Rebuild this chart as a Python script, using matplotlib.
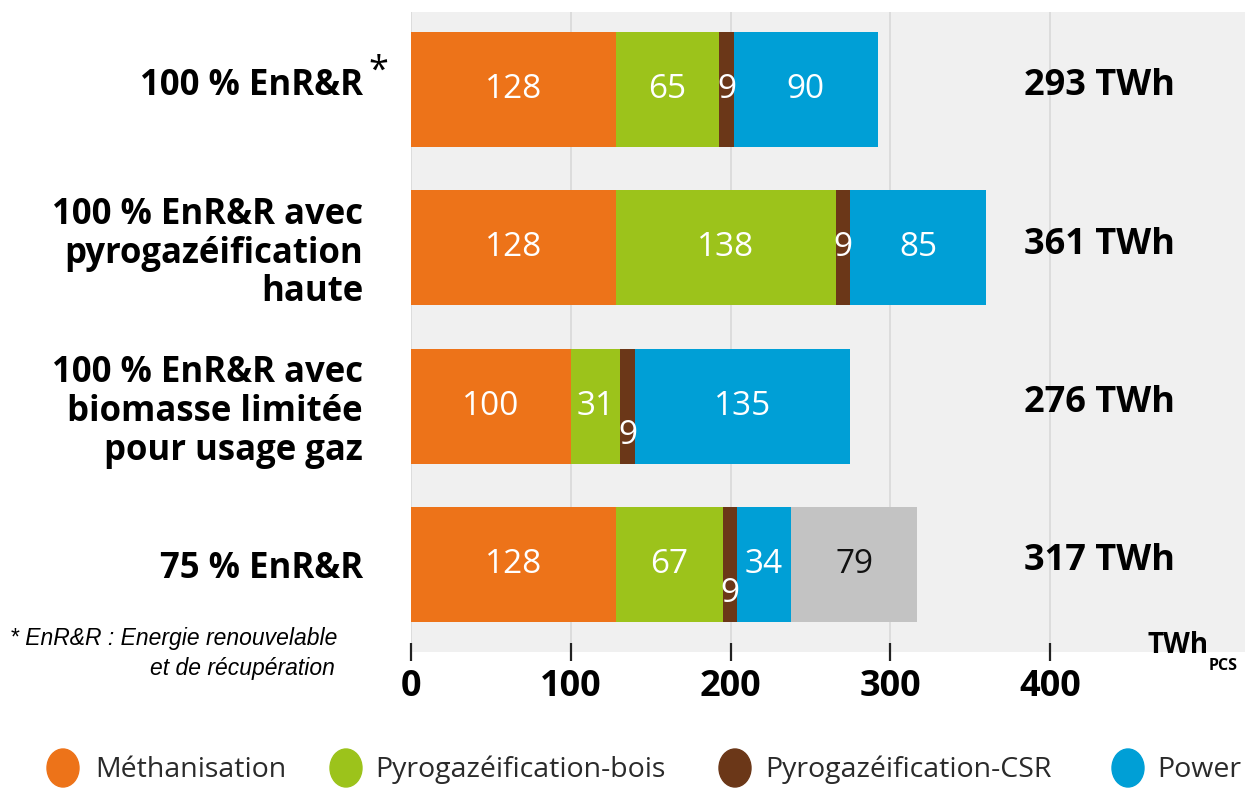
import matplotlib
matplotlib.use('Agg')
import matplotlib.pyplot as plt
from matplotlib.patches import Ellipse
from matplotlib.transforms import blended_transform_factory, ScaledTranslation

# data
scenarios = ['100 % EnR&R', '100 % EnR&R avec\npyrogazéification\nhaute',
             '100 % EnR&R avec\nbiomasse limitée\npour usage gaz', '75 % EnR&R']
methanisation = [128, 128, 100, 128]
pyro_bois = [65, 138, 31, 67]
pyro_csr = [9, 9, 9, 9]
power = [90, 85, 135, 34]
autre = [0, 0, 0, 79]
totals = ['293 TWh', '361 TWh', '276 TWh', '317 TWh']
series_names = ['Méthanisation', 'Pyrogazéification-bois', 'Pyrogazéification-CSR', 'Power']
xticks = [0, 100, 200, 300, 400]

colors = ['#ED7319', '#9CC31B', '#6B3718', '#009FD6', '#C3C3C3']
label_colors = ['white', 'white', 'white', 'white', '#111111']
bold = 'Open Sans'

W, H = 1245, 789
fig = plt.figure(figsize=(W / 100, H / 100), dpi=100)
ax = fig.add_axes([411 / W, 1 - 652 / H, 834 / W, 640 / H])
ax.set_facecolor('#F0F0F0')
ax.set_xlim(0, 522)
ax.set_ylim(3.553, -0.49)
for s in ax.spines.values():
    s.set_visible(False)

ypos = list(range(len(scenarios)))
series = [methanisation, pyro_bois, pyro_csr, power, autre]
left = [0] * len(scenarios)
for k, vals in enumerate(series):
    ax.barh(ypos, vals, left=left, height=0.727, color=colors[k], zorder=2)
    for i, v in enumerate(vals):
        if v == 0:
            continue
        dy = 0.183 if (k == 2 and i >= 2) else 0
        ax.text(left[i] + v / 2, ypos[i] + dy, str(v), ha='center', va='center',
                fontsize=24, color=label_colors[k], family='Open Sans', zorder=3)
    left = [a + b for a, b in zip(left, vals)]

ax.set_xticks(xticks)
ax.set_xticklabels([str(t) for t in xticks], fontsize=26, fontweight='bold', family=bold)
ax.tick_params(axis='x', direction='inout', length=13, width=1.6, color='#222222', pad=6)
ax.grid(axis='x', color='#DADADA', lw=1.3, zorder=0)
ax.set_axisbelow(True)

ax.set_yticks(ypos)
ax.set_yticklabels(scenarios, fontsize=25, fontweight='bold', family=bold,
                   linespacing=1.1, ha='right')
ax.tick_params(axis='y', length=0, pad=34.5)
lab0 = ax.get_yticklabels()[0]
lab0.set_transform(lab0.get_transform() + ScaledTranslation(0, 6 / 72, fig.dpi_scale_trans))

tr = blended_transform_factory(ax.transAxes, ax.transData)
for i, t in enumerate(totals):
    ax.text(0.735, ypos[i] - 0.02, t, transform=tr, ha='left', va='center',
            fontsize=26, fontweight='bold', family=bold)

def fx(x):
    return x / W

def fy(y):
    return 1 - y / H

fig.text(fx(368), fy(72), '*', fontsize=26, family=bold, ha='left', va='center')
fig.text(fx(1147), fy(653), 'TWh', fontsize=20, fontweight='bold', family=bold,
         ha='left', va='baseline')
fig.text(fx(1209), fy(670), 'PCS', fontsize=11.5, fontweight='bold', family=bold,
         ha='left', va='baseline')

fig.text(fx(10), fy(638), '* EnR&R : Energie renouvelable', fontsize=16.5,
         style='italic', family='Liberation Sans', ha='left', va='center')
fig.text(fx(150), fy(668), 'et de récupération', fontsize=16.5,
         style='italic', family='Liberation Sans', ha='left', va='center')

# legend
leg_x = [63, 346, 735, 1128]
txt_x = [95, 375, 765, 1157]
for k, name in enumerate(series_names):
    fig.add_artist(Ellipse((fx(leg_x[k]), fy(768)), 32 / W, 38 / H,
                           transform=fig.transFigure, color=colors[k]))
    fig.text(fx(txt_x[k]), fy(770), name, fontsize=20.5, color='#2a2a2a',
             family='Open Sans', ha='left', va='center')

fig.savefig('out.png', dpi=100)
